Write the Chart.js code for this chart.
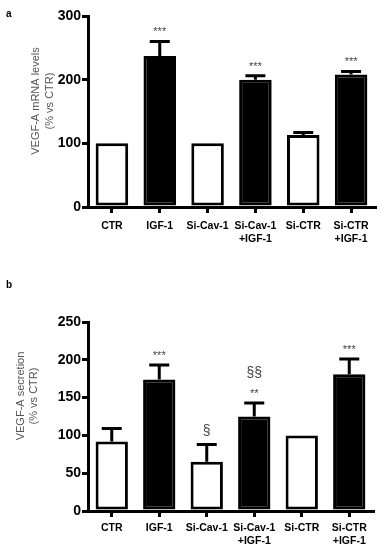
<!DOCTYPE html>
<html><head><meta charset="utf-8">
<script src="https://cdn.jsdelivr.net/npm/chart.js@4.4.1/dist/chart.umd.min.js"></script>
<style>
body{margin:0;background:#fff;width:391px;height:550px;position:relative;overflow:hidden;font-family:"Liberation Sans",Arial,sans-serif}
.panel{position:absolute;left:0;width:391px}
#wrapA{top:0;height:260px}
#wrapB{top:270px;height:280px}
</style></head><body>
<div class="panel" id="wrapA"><canvas id="chartA"></canvas></div>
<div class="panel" id="wrapB"><canvas id="chartB"></canvas></div>
<script>
// data
const groups = ['CTR', 'IGF-1', 'Si-Cav-1', ['Si-Cav-1', '+IGF-1'], 'Si-CTR', ['Si-CTR', '+IGF-1']];
const igfGroup = [false, true, false, true, false, true];

const mrnaMean = [100, 237, 100, 200, 113, 208];
const mrnaErr = [0, 23, 0, 6, 4, 5];
const mrnaMarks = [[], ['***'], [], ['***'], [], ['***']];

const secMean = [92, 174, 65, 125, 100, 181];
const secErr = [17, 19, 23, 18, 0, 20];
const secMarks = [[], ['***'], ['§'], ['**', '§§'], [], ['***']];

const FONT = '"Liberation Sans", Arial, sans-serif';

// error bars, significance marks, panel letter and y title
const extras = {
  id: 'extras',
  afterDatasetsDraw(chart, args, opts) {
    const ctx = chart.ctx, x = chart.scales.x, y = chart.scales.y;
    ctx.save();
    opts.mean.forEach((m, i) => {
      const cx = x.getPixelForValue(i);
      const top = y.getPixelForValue(m + opts.err[i]);
      if (opts.err[i] > 0) {
        ctx.strokeStyle = '#000';
        ctx.lineWidth = 3;
        ctx.beginPath();
        ctx.moveTo(cx, y.getPixelForValue(m));
        ctx.lineTo(cx, top);
        ctx.moveTo(cx - 10, top);
        ctx.lineTo(cx + 10, top);
        ctx.stroke();
      }
      ctx.fillStyle = '#444';
      ctx.textAlign = 'center';
      ctx.textBaseline = 'alphabetic';
      let cy = top - 13;
      opts.marks[i].forEach(s => {
        if (s[0] === '*') {
          ctx.font = '11px ' + FONT;
          ctx.fillText(s, cx, cy + 7);
        } else {
          ctx.font = '14px ' + FONT;
          ctx.fillText(s, cx, cy + 4);
        }
        cy -= 17;
      });
    });
    ctx.restore();
  },
  afterDraw(chart, args, opts) {
    const ctx = chart.ctx;
    ctx.save();
    ctx.fillStyle = '#000';
    ctx.font = 'bold 10px ' + FONT;
    ctx.textAlign = 'left';
    ctx.textBaseline = 'middle';
    ctx.fillText(opts.letter, 6, opts.letterY);
    ctx.fillStyle = '#555';
    ctx.font = '11px ' + FONT;
    ctx.textAlign = 'center';
    opts.title.forEach((t, k) => {
      ctx.save();
      ctx.translate(opts.titleX[k], opts.titleY);
      ctx.rotate(-Math.PI / 2);
      ctx.fillText(t, 0, 0);
      ctx.restore();
    });
    ctx.restore();
  }
};

function makeChart(id, mean, err, marks, maxY, step, pad, xHeight, xPad, extra) {
  return new Chart(document.getElementById(id), {
    type: 'bar',
    data: {
      labels: groups,
      datasets: [{
        data: mean,
        backgroundColor: igfGroup.map(g => g ? '#000' : '#fff'),
        borderColor: '#000',
        borderWidth: 3,
        borderSkipped: false,
        barPercentage: 0.68,
        categoryPercentage: 1
      }]
    },
    options: {
      responsive: true,
      maintainAspectRatio: false,
      animation: false,
      layout: { padding: pad },
      plugins: {
        legend: { display: false },
        tooltip: { enabled: false },
        extras: Object.assign({ mean: mean, err: err, marks: marks }, extra)
      },
      scales: {
        x: {
          afterFit: s => { s.height = xHeight; },
          grid: { display: true, drawOnChartArea: false, offset: false, tickLength: 6, color: '#000', lineWidth: 3 },
          border: { display: true, color: '#000', width: 3 },
          ticks: { color: '#000', padding: xPad, font: { family: FONT, size: 10.5, weight: 'bold', lineHeight: 1.3 }, maxRotation: 0, autoSkip: false }
        },
        y: {
          min: 0,
          max: maxY,
          afterFit: s => { s.width = 88; },
          grid: { display: true, drawOnChartArea: false, tickLength: 6, color: '#000', lineWidth: 3 },
          border: { display: true, color: '#000', width: 3 },
          ticks: { stepSize: step, color: '#000', padding: 1, font: { family: FONT, size: 14, weight: 'bold' } }
        }
      }
    },
    plugins: [extras]
  });
}

makeChart('chartA', mrnaMean, mrnaErr, mrnaMarks, 300, 100,
  { top: 16, right: 16, bottom: 0, left: 0 }, 53, 6,
  { letter: 'a', letterY: 14, title: ['VEGF-A mRNA levels', '(% vs CTR)'], titleX: [36, 50], titleY: 101 });

makeChart('chartB', secMean, secErr, secMarks, 250, 50,
  { top: 52, right: 18, bottom: 0, left: 0 }, 39, 4,
  { letter: 'b', letterY: 15, title: ['VEGF-A secretion', '(% vs CTR)'], titleX: [21, 34], titleY: 126 });
</script>
</body></html>
